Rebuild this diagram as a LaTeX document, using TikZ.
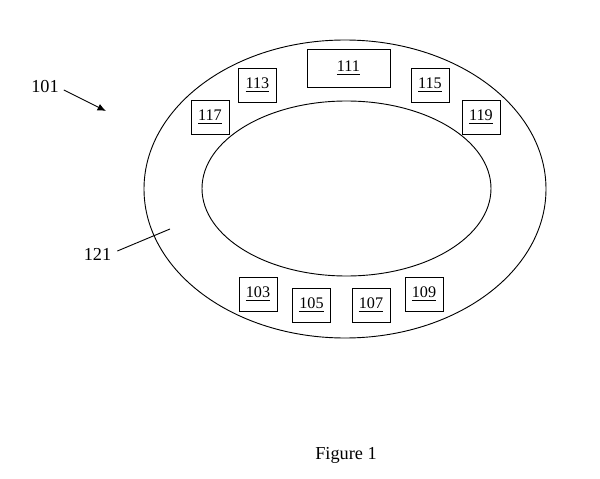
\documentclass[tikz,border=0pt]{standalone}
\usepackage{fontspec}
\setmainfont{Liberation Serif}
\usetikzlibrary{arrows.meta}

\begin{document}
\begin{tikzpicture}[x=0.025cm, y=-0.025cm, line width=0.65pt,
		part/.style={draw, minimum width=0.95cm, minimum height=0.85cm, inner sep=0pt, font=\fontsize{11.5}{13}\selectfont},
		callout/.style={font=\fontsize{13}{15}\selectfont}]
		\useasboundingbox (0,0) rectangle (600,479);
		%ring
		\draw (345,189) ellipse [x radius=201, y radius=149];
		\draw (346.5,188.5) ellipse [x radius=144.5, y radius=87.5];
		
		%parts on the ring
		\node[part, minimum width=2.075cm, minimum height=0.95cm] (p111) at (348.5, 68){\underline{111}};
		\node[part] (p113) at (257.5, 85){\underline{113}};
		\node[part] (p115) at (430, 85){\underline{115}};
		\node[part] (p117) at (210, 117){\underline{117}};
		\node[part] (p119) at (481, 117){\underline{119}};
		\node[part] (p103) at (258, 294){\underline{103}};
		\node[part] (p105) at (311.5, 305){\underline{105}};
		\node[part] (p107) at (371, 305){\underline{107}};
		\node[part] (p109) at (424, 294){\underline{109}};
		
		%reference numerals
		\node[callout] (n101) at (45, 87){101};
		\coordinate (t101) at (106, 111);
		\draw[-{Latex[length=6pt, width=5pt]}] (n101.east) ++(0,3) -- (t101);
		\node[callout] (n121) at (97.5, 254){121};
		\coordinate (t121) at (170, 229);
		\draw (n121.east) ++(1,-3) -- (t121);
		
		\node[callout] (fig) at (346, 455){Figure 1};
\end{tikzpicture}
\end{document}
